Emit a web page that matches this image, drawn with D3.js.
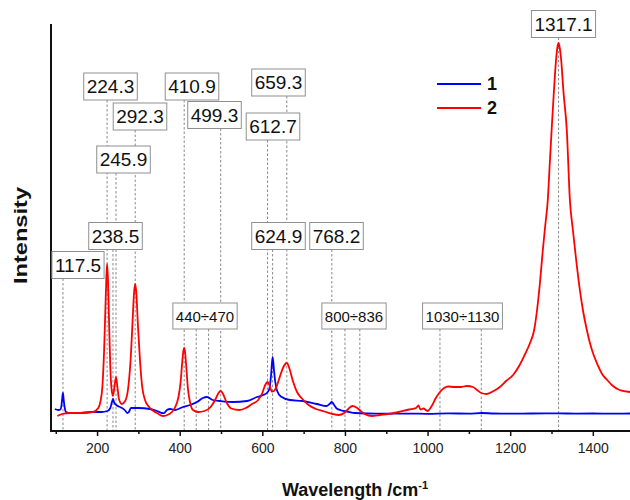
<!DOCTYPE html>
<html>
<head>
<meta charset="utf-8">
<script src="https://cdn.jsdelivr.net/npm/d3@7"></script>
<style>
  body { margin: 0; background: #fff; }
  svg text { font-family: "Liberation Sans", Arial, sans-serif; }
</style>
</head>
<body>
<svg id="chart" width="630" height="500"></svg>
<script>
// Raman spectra: wavenumber (cm-1) and intensity (arb. units)
const wavenumber1 = [98,106,111,114,116,117.5,119,121,125,135,160,185,210,225,232,236,238.5,242,248,258,268,273,277,282,300,328,345,357,362,369,377,389,408,425,442,456,466,480,498,529,563,587,602,611,617,621,624.9,628,631,636,645,667,698,732,756,764,768.2,773,780,792,805,825,853,900,950,1000,1050,1100,1131,1160,1200,1250,1317,1360,1400,1450,1490];
const intensity1 = [220,210,215,260,340,380,320,250,190,180,180,190,190,200,230,290,320,280,255,235,205,180,190,230,230,220,200,180,178,210,220,210,240,260,290,330,340,310,300,290,300,340,360,380,420,550,740,620,500,400,345,310,300,270,250,275,290,265,225,205,195,180,175,173,174,172,176,174,180,175,173,175,176,174,175,174,175];

const wavenumber2 = [104,115,135,160,190,203,208,213,217,220,222.5,224.3,226.5,229,232,235,238.5,242,245.9,249,253,260,268,275,281,286,289.5,292.3,295,299,304,309,316,328,345,360,375,388,397,402,406,409,410.9,413,416,420,425,432,445,460,475,487,494,499.3,505,513,525,545,560,575,590,600,607,612.7,618,623,628,635,643,651,659.3,666,674,684,697,712,730,750,770,785,798,808,818,828,838,850,865,885,905,930,955,972,978,983,990,1000,1010,1020,1030,1040,1050,1065,1080,1095,1110,1120,1130,1143,1160,1175,1190,1207,1223,1235,1248,1258,1265,1272,1279,1285,1291,1296,1301,1306,1311,1314,1317.1,1320,1323,1329,1337,1344.5,1352,1360,1368,1376,1385,1393,1402,1412,1424,1435,1446,1465,1490];
const intensity2 = [150,170,180,180,190,230,290,450,800,1200,1530,1670,1500,1100,650,420,350,440,540,450,320,270,300,420,700,1100,1380,1470,1380,1050,700,450,310,230,180,150,170,230,340,480,680,800,830,790,640,420,290,210,190,200,240,320,380,400,370,290,225,210,230,270,310,380,460,490,450,395,400,450,550,640,680,620,500,390,320,260,220,195,170,160,180,220,250,235,200,165,150,160,170,190,215,230,255,215,225,200,250,330,390,430,445,440,440,450,440,410,380,370,400,440,500,560,660,760,880,1010,1210,1480,1810,2060,2310,2690,3060,3410,3710,3830,3880,3830,3730,3390,3010,2310,2000,1700,1430,1210,1020,880,760,660,560,510,460,410,390];

const seriesNames = ["1", "2"];
const seriesColors = ["#0000ff", "#ff0000"];

const majorTicks = [200, 400, 600, 800, 1000, 1200, 1400];
const minorTicks = [100, 300, 500, 700, 900, 1100, 1300];

// Assigned single bands and band ranges
const peakLabels = ["117.5","224.3","238.5","245.9","292.3","410.9","499.3","612.7","624.9","659.3","768.2","1317.1"];
const bandLabels = ["440÷470", "800÷836", "1030÷1130"];
const bandStarts = [440, 800, 1030];
const bandEnds = [470, 836, 1130];

// Where each annotation box sits (pixel centre)
const boxSlots = {
  "117.5": [78, 265], "224.3": [110.5, 86.5], "238.5": [115.5, 236], "245.9": [123.5, 159.5],
  "292.3": [140, 116.5], "410.9": [192, 86.5], "499.3": [214.5, 115], "612.7": [273, 126.5],
  "624.9": [278.5, 236], "659.3": [278.5, 82.5], "768.2": [336.5, 236], "1317.1": [563.5, 24],
  "440÷470": [205, 316], "800÷836": [354, 316], "1030÷1130": [462.5, 316]
};

const svg = d3.select("#chart");
const plotLeft = 51, plotRight = 630, plotTop = 25, plotBottom = 431;

const x = d3.scaleLinear().domain([88.5, 1490]).range([plotLeft, plotRight]);
const y = d3.scaleLinear().domain([0, 4060]).range([plotBottom, plotTop]);

svg.append("defs").append("clipPath").attr("id", "plotclip")
  .append("rect").attr("x", plotLeft).attr("y", 0)
  .attr("width", plotRight - plotLeft).attr("height", plotBottom);

// Annotation guide lines (behind everything)
const guides = svg.append("g").attr("stroke", "#8a8a8a").attr("stroke-width", 1)
  .attr("stroke-dasharray", "2.5,2");
const boxH = 27;
peakLabels.forEach(lbl => {
  const v = parseFloat(lbl);
  const cy = boxSlots[lbl][1];
  guides.append("line").attr("x1", x(v)).attr("x2", x(v))
    .attr("y1", cy + boxH / 2).attr("y2", plotBottom);
});
bandLabels.forEach((lbl, i) => {
  const cy = boxSlots[lbl][1];
  [bandStarts[i], bandEnds[i]].forEach(v => {
    guides.append("line").attr("x1", x(v)).attr("x2", x(v))
      .attr("y1", cy + 13).attr("y2", plotBottom);
  });
});

// Spectra
const line = d3.line().x(d => x(d[0])).y(d => y(d[1])).curve(d3.curveMonotoneX);
const plot = svg.append("g").attr("clip-path", "url(#plotclip)");
const spectra = [d3.zip(wavenumber1, intensity1), d3.zip(wavenumber2, intensity2)];
spectra.forEach((pts, i) => {
  plot.append("path").datum(pts).attr("d", line)
    .attr("fill", "none").attr("stroke", seriesColors[i])
    .attr("stroke-width", 1.8).attr("stroke-linejoin", "round");
});

// Axes
const gx = svg.append("g").attr("transform", `translate(0,${plotBottom})`);
gx.call(d3.axisBottom(x).tickValues(minorTicks).tickSize(3).tickFormat(""));
gx.selectAll(".domain").remove();
const gxm = svg.append("g").attr("transform", `translate(0,${plotBottom})`)
  .call(d3.axisBottom(x).tickValues(majorTicks).tickSize(5).tickPadding(7).tickFormat(d3.format("d")));
gxm.selectAll(".domain").remove();
svg.selectAll(".tick line").attr("stroke", "#111").attr("stroke-width", 1.5);
gxm.selectAll(".tick text").attr("font-size", 14).attr("fill", "#222")
  .style("font-family", "'Liberation Sans', Arial, sans-serif");

svg.append("line").attr("x1", plotLeft).attr("x2", plotRight).attr("y1", plotBottom).attr("y2", plotBottom)
  .attr("stroke", "#111").attr("stroke-width", 2);
svg.append("line").attr("x1", plotLeft).attr("x2", plotLeft).attr("y1", plotTop - 1).attr("y2", plotBottom + 1)
  .attr("stroke", "#111").attr("stroke-width", 2);

// Axis titles
const xt = svg.append("text").attr("x", 355).attr("y", 496).attr("text-anchor", "middle")
  .attr("font-size", 18).attr("font-weight", "bold").attr("fill", "#111");
xt.append("tspan").text("Wavelength /cm");
xt.append("tspan").attr("dy", -7).attr("font-size", 11).text("-1");

svg.append("text").attr("transform", "translate(27,235.5) rotate(-90)")
  .attr("text-anchor", "middle").attr("font-size", 19).attr("font-weight", "bold")
  .attr("fill", "#111").attr("textLength", 97).attr("lengthAdjust", "spacingAndGlyphs")
  .text("Intensity");

// Annotation boxes
function drawBox(lbl, fontSize, h) {
  const [cx, cy] = boxSlots[lbl];
  const g = svg.append("g");
  const t = g.append("text").attr("x", cx).attr("y", cy).attr("text-anchor", "middle")
    .attr("dominant-baseline", "central").attr("font-size", fontSize).attr("fill", "#111").text(lbl);
  const w = t.node().getComputedTextLength() + 6;
  g.insert("rect", "text").attr("x", cx - w / 2).attr("y", cy - h / 2)
    .attr("width", w).attr("height", h)
    .attr("fill", "#fff").attr("stroke", "#8f8f8f").attr("stroke-width", 1);
}
peakLabels.forEach(l => drawBox(l, 19, boxH));
bandLabels.forEach(l => drawBox(l, 15, 26));

// Legend
const legend = svg.append("g");
seriesNames.forEach((name, i) => {
  const ly = 84 + i * 24;
  legend.append("line").attr("x1", 437).attr("x2", 481).attr("y1", ly).attr("y2", ly)
    .attr("stroke", seriesColors[i]).attr("stroke-width", 2);
  legend.append("text").attr("x", 487).attr("y", ly).attr("dominant-baseline", "central")
    .attr("font-size", 18).attr("font-weight", "bold").attr("fill", "#111").text(name);
});
</script>
</body>
</html>
